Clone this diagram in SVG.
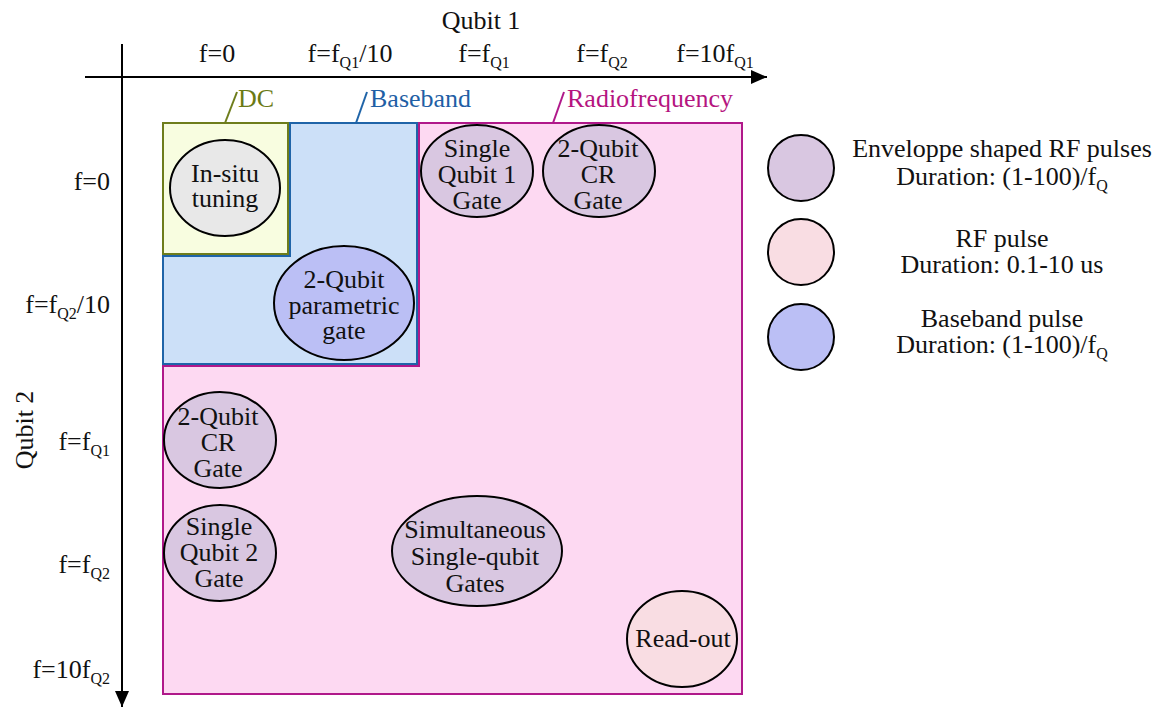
<svg xmlns="http://www.w3.org/2000/svg" width="1164" height="707" viewBox="0 0 1164 707" font-family="'Liberation Serif', 'DejaVu Serif', serif" font-size="26">
<style>
text{font-family:'Liberation Serif','DejaVu Serif',serif;font-size:26px;fill:#111}
.m{text-anchor:middle}
.e{text-anchor:end}
.node{stroke:#000;stroke-width:2}
.rf{fill:#d9c7e1}
.sub{font-size:16px}
</style>
<defs>
<marker id="ah2" viewBox="0 0 10 10" refX="10" refY="5" markerWidth="16" markerHeight="14" markerUnits="userSpaceOnUse" orient="auto" preserveAspectRatio="none">
<path d="M0,0 L10,5 L0,10 z" fill="#000"/>
</marker>
</defs>
<rect width="1164" height="707" fill="#fff"/>
<g id="regions">
<path id="rf-region" d="M419,123 H742 V694 H163 V366 H419 Z" fill="#fdd9f2" stroke="#b0188a" stroke-width="2"/>
<path id="bb-region" d="M290,123 H417 V364 H163 V256 H290 Z" fill="#cce0f8" stroke="#1f64a8" stroke-width="2"/>
<rect id="dc-region" x="163" y="123" width="125" height="131" fill="#f8fde0" stroke="#6e7d1c" stroke-width="2"/>
</g>
<g id="connectors" fill="none" stroke-width="2">
<line x1="85" y1="77" x2="767" y2="77" stroke="#000" marker-end="url(#ah2)"/>
<line x1="122" y1="44" x2="122" y2="707" stroke="#000" marker-end="url(#ah2)"/>
<line x1="225" y1="123" x2="237" y2="92" stroke="#6e7d1c"/>
<line x1="356" y1="123" x2="367" y2="92" stroke="#1f64a8"/>
<line x1="553" y1="123" x2="564" y2="92" stroke="#b0188a"/>
</g>
<g id="axis-labels">
<text class="m" x="481" y="29">Qubit 1</text>
<text class="m" x="217" y="62">f=0</text>
<text class="m" x="350" y="62">f=f<tspan class="sub" dy="6">Q1</tspan><tspan dy="-6">/10</tspan></text>
<text class="m" x="484" y="62">f=f<tspan class="sub" dy="6">Q1</tspan></text>
<text class="m" x="602" y="62">f=f<tspan class="sub" dy="6">Q2</tspan></text>
<text class="m" x="715" y="62">f=10f<tspan class="sub" dy="6">Q1</tspan></text>
<text class="m" transform="translate(33,430) rotate(-90)">Qubit 2</text>
<text class="e" x="110" y="190">f=0</text>
<text class="e" x="110" y="313">f=f<tspan class="sub" dy="6">Q2</tspan><tspan dy="-6">/10</tspan></text>
<text class="e" x="110" y="450">f=f<tspan class="sub" dy="6">Q1</tspan></text>
<text class="e" x="110" y="573">f=f<tspan class="sub" dy="6">Q2</tspan></text>
<text class="e" x="110" y="678">f=10f<tspan class="sub" dy="6">Q2</tspan></text>
</g>
<g id="region-labels">
<text x="238" y="107" style="fill:#6b7a15">DC</text>
<text x="370" y="107" style="fill:#1f5fa5">Baseband</text>
<text x="567" y="107" style="fill:#b5157f">Radiofrequency</text>
</g>
<g id="n-insitu">
<ellipse class="node" cx="225" cy="188" rx="55" ry="48" fill="#e8e8e8"/>
<text class="m" x="225" y="182">In-situ</text>
<text class="m" x="225" y="207">tuning</text>
</g>
<g id="n-param">
<ellipse class="node" cx="344" cy="303" rx="70" ry="57" fill="#bbbff5"/>
<text class="m" x="344" y="288">2-Qubit</text>
<text class="m" x="344" y="314">parametric</text>
<text class="m" x="344" y="339">gate</text>
</g>
<g id="n-sq1">
<ellipse class="node rf" cx="477" cy="171" rx="56" ry="46"/>
<text class="m" x="477" y="157">Single</text>
<text class="m" x="477" y="183">Qubit 1</text>
<text class="m" x="477" y="209">Gate</text>
</g>
<g id="n-cr-top">
<ellipse class="node rf" cx="599" cy="171" rx="56" ry="46"/>
<text class="m" x="598" y="157">2-Qubit</text>
<text class="m" x="598" y="183">CR</text>
<text class="m" x="598" y="209">Gate</text>
</g>
<g id="n-cr-left">
<ellipse class="node rf" cx="220" cy="440" rx="56" ry="48"/>
<text class="m" x="218" y="425">2-Qubit</text>
<text class="m" x="218" y="451">CR</text>
<text class="m" x="218" y="477">Gate</text>
</g>
<g id="n-sq2">
<ellipse class="node rf" cx="220" cy="553" rx="56" ry="48"/>
<text class="m" x="219" y="535">Single</text>
<text class="m" x="219" y="561">Qubit 2</text>
<text class="m" x="219" y="587">Gate</text>
</g>
<g id="n-sim">
<ellipse class="node rf" cx="477" cy="551" rx="85" ry="55"/>
<text class="m" x="475" y="538">Simultaneous</text>
<text class="m" x="475" y="565">Single-qubit</text>
<text class="m" x="475" y="592">Gates</text>
</g>
<g id="n-readout">
<ellipse class="node" cx="682" cy="639" rx="55" ry="48" fill="#f9dde3"/>
<text class="m" x="683" y="647">Read-out</text>
</g>
<g id="legend">
<g id="leg-env">
<circle class="node rf" cx="801" cy="168" r="33"/>
<text class="m" x="1002" y="157">Enveloppe shaped RF pulses</text>
<text class="m" x="1002" y="185">Duration: (1-100)/f<tspan class="sub" dy="6">Q</tspan></text>
</g>
<g id="leg-rf">
<circle class="node" cx="801" cy="252" r="33" fill="#f9dde3"/>
<text class="m" x="1002" y="247">RF pulse</text>
<text class="m" x="1002" y="273">Duration: 0.1-10 us</text>
</g>
<g id="leg-bb">
<circle class="node" cx="801" cy="337" r="33" fill="#bbbff5"/>
<text class="m" x="1002" y="327">Baseband pulse</text>
<text class="m" x="1002" y="353">Duration: (1-100)/f<tspan class="sub" dy="6">Q</tspan></text>
</g>
</g>
</svg>
